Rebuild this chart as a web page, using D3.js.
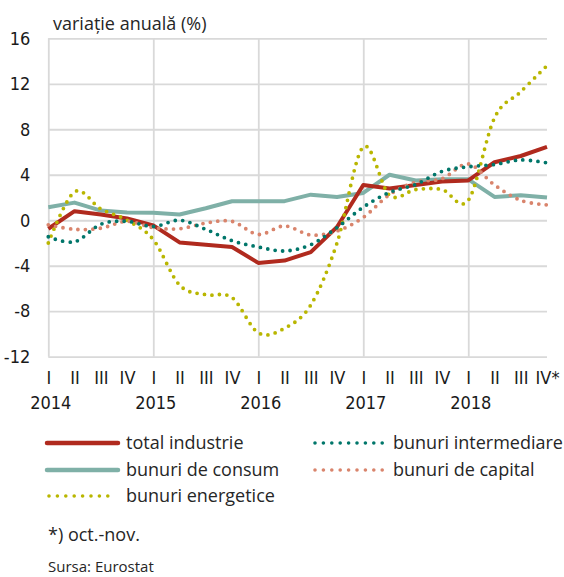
<!DOCTYPE html>
<html>
<head>
<meta charset="utf-8">
<script src="https://cdn.jsdelivr.net/npm/d3@7"></script>
<style>
  body { margin: 0; background: #fff; }
  .axis-num { font-family: "Liberation Sans Narrow", "DejaVu Sans Condensed", sans-serif; font-size: 18px; fill: #1a1a1a; }
  .txt { font-family: "Open Sans", "Noto Sans", sans-serif; fill: #262626; }
</style>
</head>
<body>
<div id="chart-area"></div>
<script>
// values (quarterly, annual change %)
let years = ["2014", "2015", "2016", "2017", "2018"];
let quarterLabels = ["I","II","III","IV","I","II","III","IV","I","II","III","IV",
                     "I","II","III","IV","I","II","III","IV*"];
let totalIndustrie = [-0.75, 0.8, 0.5, 0.15, -0.45, -1.95, -2.15, -2.35, -3.75, -3.55,
                      -2.8, -0.6, 3.1, 2.8, 3.1, 3.4, 3.5, 5.1, 5.65, 6.45];
let bunuriConsum = [1.15, 1.55, 0.85, 0.68, 0.66, 0.5, 1.05, 1.67, 1.68, 1.68,
                    2.25, 2.05, 2.4, 4.0, 3.5, 3.6, 3.6, 2.05, 2.2, 2.0];
let bunuriIntermediare = [-1.45, -1.9, -0.35, -0.1, -0.55, 0.0, -0.8, -1.8, -2.35, -2.7,
                          -2.15, -0.65, 1.15, 2.45, 3.15, 4.3, 4.7, 4.9, 5.3, 5.05];
let bunuriCapital = [-0.4, -0.8, -0.7, -0.1, -0.65, -0.75, -0.25, -0.1, -1.25, -0.5,
                     -1.3, -0.95, 0.25, 2.25, 3.35, 3.65, 4.95, 3.1, 1.75, 1.35];
let bunuriEnergetice = [-2.0, 2.5, 1.0, 0.0, -1.7, -5.7, -6.55, -6.8, -9.9, -9.5,
                        -7.45, -2.0, 6.45, 2.2, 2.7, 2.7, 1.75, 9.0, 11.3, 13.6];
let yTicks = [-12, -8, -4, 0, 4, 8, 12, 16];

let periods = [];
years.forEach(function(yr) {
    ["I","II","III","IV"].forEach(function(q) { periods.push(yr + "-" + q); });
});

let margin = { left: 48.3, right: 17, top: 38.3, bottom: 220.3 };
let width = 564 - margin.left - margin.right,
    height = 577 - margin.top - margin.bottom;

let svg = d3.select("#chart-area")
    .append("svg")
    .attr("width", 564)
    .attr("height", 577);

let g = svg.append("g")
    .attr("transform", "translate(" + margin.left + "," + margin.top + ")");

// Scales
let x = d3.scalePoint()
    .domain(periods)
    .range([0, width]);

let y = d3.scaleLinear()
    .domain([-12, 16])
    .range([height, 0]);

// Grid - horizontal
g.append("g")
    .attr("class", "grid")
    .call(d3.axisLeft(y).tickValues(yTicks).tickSize(-width).tickFormat(""))
    .call(function(s) { s.select(".domain").remove(); })
    .selectAll("line")
        .attr("stroke", "#d9d9d9")
        .attr("stroke-width", 1.8);

// Grid - vertical, one per year
g.append("g")
    .attr("class", "grid")
    .call(d3.axisBottom(x)
        .tickValues(periods.filter(function(p) { return p.slice(5) === "I"; }))
        .tickSize(-height).tickFormat(""))
    .attr("transform", "translate(0," + height + ")")
    .call(function(s) { s.select(".domain").remove(); })
    .selectAll("line")
        .attr("stroke", "#d9d9d9")
        .attr("stroke-width", 1.8);

// Y Axis labels (plain hyphen for negatives, like the original)
let yAxis = g.append("g")
    .call(d3.axisLeft(y).tickValues(yTicks).tickSize(0).tickPadding(18)
        .tickFormat(function(d) { return String(d); }));
yAxis.select(".domain").remove();
yAxis.selectAll("text")
    .attr("class", "axis-num")
    .attr("font-size", null).attr("font-family", null)
    .attr("fill", null);

// X Axis - quarters
let xAxis = g.append("g")
    .attr("transform", "translate(0," + height + ")")
    .call(d3.axisBottom(x).tickSize(0).tickPadding(15)
        .tickFormat(function(d, i) { return quarterLabels[i]; }));
xAxis.select(".domain").remove();
xAxis.selectAll("text")
    .attr("class", "axis-num")
    .attr("font-size", null).attr("font-family", null)
    .attr("fill", null);

// X Axis - years
let yearAxis = g.append("g")
    .attr("transform", "translate(2," + height + ")")
    .call(d3.axisBottom(x).tickSize(0).tickPadding(40)
        .tickValues(periods.filter(function(p) { return p.slice(5) === "I"; }))
        .tickFormat(function(d) { return d.slice(0, 4); }));
yearAxis.select(".domain").remove();
yearAxis.selectAll("text")
    .attr("class", "axis-num")
    .attr("font-size", null).attr("font-family", null)
    .attr("fill", null);

// Title
svg.append("text")
    .attr("class", "txt")
    .attr("x", 53)
    .attr("y", 30)
    .attr("font-size", "18px")
    .text("variație anuală (%)");

// Series
let series = [
    { name: "total industrie", values: totalIndustrie, color: "#b02a1e", dotted: false },
    { name: "bunuri de consum", values: bunuriConsum, color: "#7fb0a7", dotted: false },
    { name: "bunuri energetice", values: bunuriEnergetice, color: "#b9b600", dotted: true },
    { name: "bunuri intermediare", values: bunuriIntermediare, color: "#00766a", dotted: true },
    { name: "bunuri de capital", values: bunuriCapital, color: "#d9846c", dotted: true }
];

let drawOrder = [1, 0, 2, 4, 3];

drawOrder.forEach(function(k) {
    let s = series[k];
    let line = d3.line()
        .x(function(d, i) { return x(periods[i]); })
        .y(function(d) { return y(d); })
        .curve(s.dotted ? d3.curveCardinal.tension(0) : d3.curveLinear);

    let path = g.append("path")
        .datum(s.values)
        .attr("fill", "none")
        .attr("stroke", s.color)
        .attr("d", line);

    if (s.dotted) {
        path.attr("stroke-width", 3.8)
            .attr("stroke-linecap", "round")
            .attr("stroke-dasharray", "0 7.5");
    } else {
        path.attr("stroke-width", 4)
            .attr("stroke-linejoin", "round");
    }
});

// Legend
let legendItems = [
    { s: series[0], x: 47, y: 443 },
    { s: series[1], x: 47, y: 470 },
    { s: series[2], x: 47, y: 496 },
    { s: series[3], x: 313, y: 443 },
    { s: series[4], x: 313, y: 470 }
];

let legend = svg.append("g").attr("class", "legend");

legendItems.forEach(function(item) {
    let s = item.s;
    let len = s.dotted ? 67.2 : 71;
    let sx = s.dotted ? item.x + 2 : item.x;
    let l = legend.append("line")
        .attr("x1", sx)
        .attr("x2", sx + len)
        .attr("y1", item.y)
        .attr("y2", item.y)
        .attr("stroke", s.color);
    if (s.dotted) {
        l.attr("stroke-width", 3.6)
            .attr("stroke-linecap", "round")
            .attr("stroke-dasharray", "0 8.4");
    } else {
        l.attr("stroke-width", 4.5)
            .attr("stroke-linecap", "round");
    }
    legend.append("text")
        .attr("class", "txt")
        .attr("x", s.dotted && item.x > 100 ? 393 : 126)
        .attr("y", item.y)
        .attr("dy", "0.35em")
        .attr("font-size", "18px")
        .text(s.name);
});

// Notes
svg.append("text")
    .attr("class", "txt")
    .attr("x", 48)
    .attr("y", 541)
    .attr("font-size", "18px")
    .text("*) oct.-nov.");

svg.append("text")
    .attr("class", "txt")
    .attr("x", 48)
    .attr("y", 572)
    .attr("font-size", "15px")
    .text("Sursa: Eurostat");
</script>
</body>
</html>
